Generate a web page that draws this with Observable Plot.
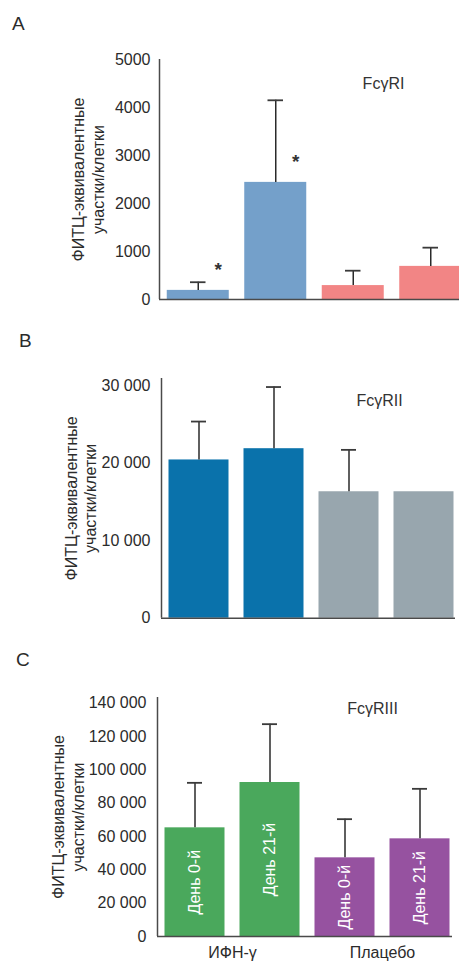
<!DOCTYPE html>
<html>
<head>
<meta charset="utf-8">
<script src="https://cdn.jsdelivr.net/npm/d3@7"></script>
<script src="https://cdn.jsdelivr.net/npm/@observablehq/plot@0.6"></script>
<style>
html, body { margin: 0; padding: 0; background: #fff; overflow: hidden; }
body { width: 459px; height: 961px; position: relative; font-family: "Liberation Sans", Arial, Helvetica, sans-serif; color: #2b2b2b; }
.panel-label { position: absolute; font-size: 19px; line-height: 1; }
.chart { position: absolute; left: 0; width: 459px; }
</style>
</head>
<body>
<div class="panel-label" style="left:12px;top:14px">A</div>
<div class="chart" id="chartA" style="top:40px"></div>
<div class="panel-label" style="left:19px;top:331px">B</div>
<div class="chart" id="chartB" style="top:360px"></div>
<div class="panel-label" style="left:16px;top:650px">C</div>
<div class="chart" id="chartC" style="top:680px"></div>
<script>
// ---- data ----
const groups = ["ИФН-γ", "ИФН-γ", "Плацебо", "Плацебо"];
const days = ["День 0-й", "День 21-й", "День 0-й", "День 21-й"];
const yTitle = "ФИТЦ-эквивалентные\nучастки/клетки";

const receptorA = "FcγRI";
const meanA = [190, 2440, 290, 690];
const sdA = [170, 1710, 310, 390];
const starA = [true, true, false, false];
const ticksA = [0, 1000, 2000, 3000, 4000, 5000];

const receptorB = "FcγRII";
const meanB = [20400, 21850, 16300, 16300];
const sdB = [4950, 7950, 5400, 0];
const ticksB = [0, 10000, 20000, 30000];

const receptorC = "FcγRIII";
const meanC = [65200, 92400, 47200, 58600];
const sdC = [27000, 35000, 23200, 30000];
const ticksC = [0, 20000, 40000, 60000, 80000, 100000, 120000, 140000];

// ---- helpers ----
const groupDomain = Array.from(new Set(groups));
function rowsOf(means, sds, stars) {
  return means.map((m, i) => ({
    i, group: groups[i], day: days[i], mean: m, sd: sds[i],
    top: m + sds[i], star: stars ? stars[i] : false
  }));
}
const spaced = d => d3.format(",")(d).replace(/,/g, " ");
const FONT = '"Liberation Sans", Arial, Helvetica, sans-serif';

function panel(o) {
  const rows = o.rows;
  const half = 0.4, cap = 0.1;
  const withErr = rows.filter(d => d.sd > 0);
  const marks = [
    Plot.rect(rows, {x1: d => d.i + 0.5 - half, x2: d => d.i + 0.5 + half, y1: 0, y2: "mean", fill: "group"}),
    Plot.ruleX(withErr, {x: d => d.i + 0.5, y1: "mean", y2: "top", stroke: "#2a2a2a", strokeWidth: 1.5}),
    Plot.ruleY(withErr, {y: "top", x1: d => d.i + 0.5 - cap, x2: d => d.i + 0.5 + cap, stroke: "#3a3a3a", strokeWidth: 1.8}),
    Plot.ruleY([0], {stroke: "#4a4a4a", strokeWidth: 1.5}),
    Plot.ruleX([0], {stroke: "#4a4a4a", strokeWidth: 1.5}),
    Plot.text([o.receptor], {frameAnchor: "top-right", dx: o.recDx, dy: o.recDy, text: d => d,
      fontSize: 16, textAnchor: "middle", lineAnchor: "middle", fill: "#333"}),
    Plot.text([yTitle], {frameAnchor: "left", dx: o.titleDx, text: d => d, rotate: -90,
      fontSize: 16, textAnchor: "middle", lineAnchor: "middle", lineHeight: o.titleLH, fill: "#2b2b2b"})
  ];
  if (o.stars) {
    marks.push(Plot.text(rows.filter(d => d.star), {x: d => d.i + 0.5, y: "mean", text: () => "*",
      dx: 20, dy: -20, fontSize: 19, fontWeight: "bold", fill: "#333"}));
  }
  if (o.barLabels) {
    marks.push(Plot.text(rows, {x: d => d.i + 0.5, y: d => d.mean / 2, text: "day", rotate: -90,
      fill: "white", fontSize: 16, textAnchor: "middle", lineAnchor: "middle"}));
  }
  if (o.groupLabels) {
    const g = d3.rollups(rows, v => d3.mean(v, d => d.i + 0.5), d => d.group).map(([group, center]) => ({group, center}));
    marks.push(Plot.text(g, {x: "center", text: "group", frameAnchor: "bottom", dy: o.groupDy,
      fontSize: 16, lineAnchor: "middle", fill: "#2b2b2b"}));
  }
  return Plot.plot({
    width: 459,
    height: o.height,
    marginLeft: o.xRange[0],
    marginRight: o.marginRight,
    marginTop: o.marginTop,
    marginBottom: o.marginBottom,
    style: {fontFamily: FONT, fontSize: "16px", color: "#2b2b2b", background: "white", overflow: "hidden"},
    x: {domain: [0, 4], range: o.xRange, axis: null},
    y: {domain: [0, o.yMax], ticks: o.ticks, tickFormat: o.fmt, tickSize: 0, tickPadding: o.tickPadding, label: null},
    color: {domain: groupDomain, range: o.colors},
    marks
  });
}

document.getElementById("chartA").append(panel({
  rows: rowsOf(meanA, sdA, starA), stars: true, receptor: receptorA,
  colors: ["#74a0ca", "#f28585"], ticks: ticksA, yMax: 5000, fmt: d3.format("d"),
  height: 280, marginTop: 19, marginBottom: 21, marginRight: 0, xRange: [159, 469],
  tickPadding: 9, recDx: -76, recDy: 24, titleDx: -72, titleLH: 1.25
}));
document.getElementById("chartB").append(panel({
  rows: rowsOf(meanB, sdB), receptor: receptorB,
  colors: ["#0a72ab", "#98a6ae"], ticks: ticksB, yMax: 30900, fmt: spaced,
  height: 280, marginTop: 18, marginBottom: 22.3, marginRight: 4, xRange: [161, 461],
  tickPadding: 11, recDx: -76, recDy: 22, titleDx: -81.5, titleLH: 1.19
}));
document.getElementById("chartC").append(panel({
  rows: rowsOf(meanC, sdC), receptor: receptorC, barLabels: true, groupLabels: true,
  colors: ["#4aa85c", "#9652a0"], ticks: ticksC, yMax: 143400, fmt: spaced,
  height: 281, marginTop: 17, marginBottom: 25, marginRight: 7, xRange: [157, 457],
  tickPadding: 11, recDx: -80, recDy: 11, titleDx: -90, titleLH: 1.25, groupDy: 16
}));
</script>
</body>
</html>
